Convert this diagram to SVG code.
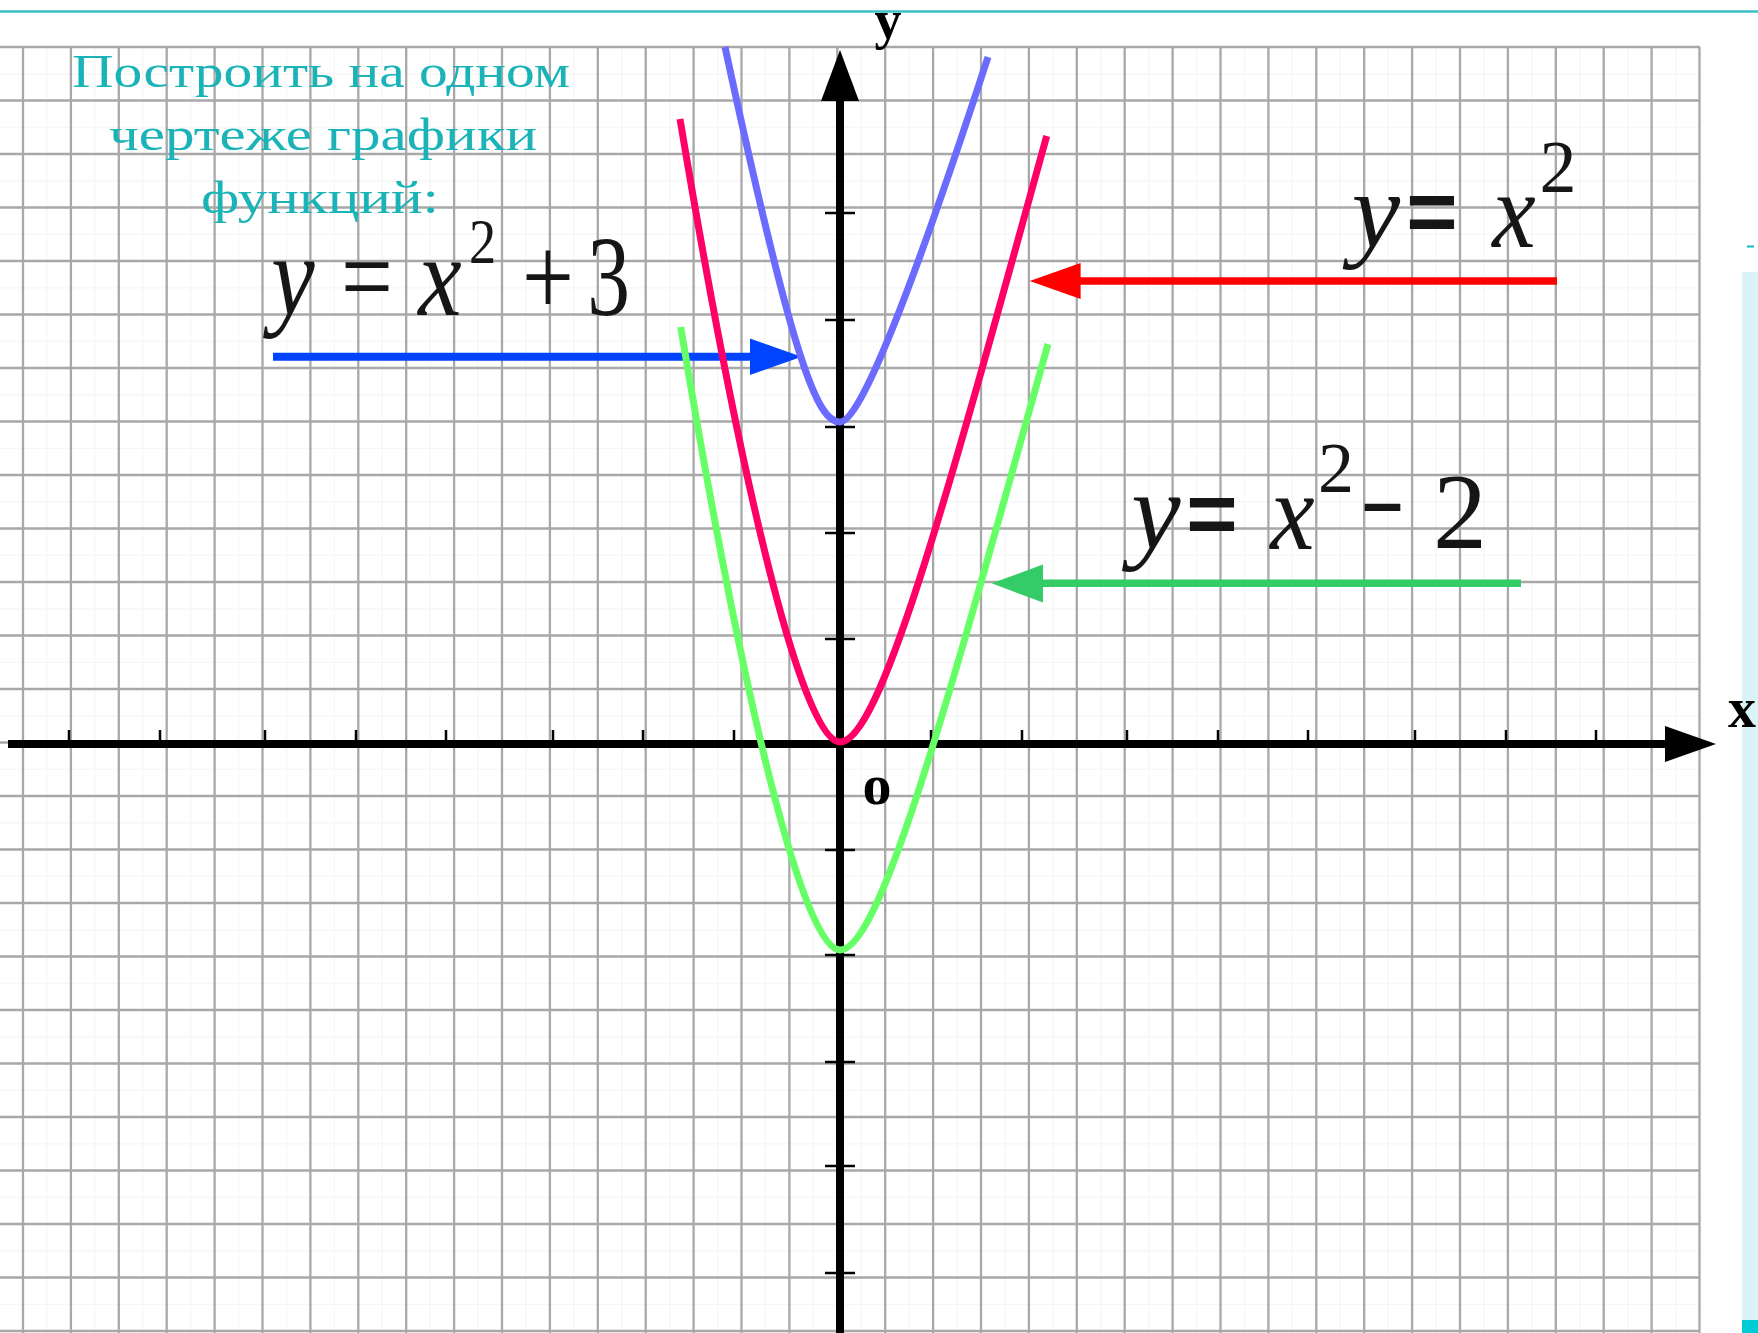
<svg xmlns="http://www.w3.org/2000/svg" width="1758" height="1333" viewBox="0 0 1758 1333">
<defs>
<style>
.grid{fill:none;stroke:#a8a8a8;stroke-width:2.3}
.minor{fill:none;stroke:#f6f6f6;stroke-width:1.2}
.axis{fill:none;stroke:#000;stroke-width:8}
.tick{fill:none;stroke:#000;stroke-width:2.5}
.curve{fill:none;stroke-width:7;stroke-linecap:butt}
.title{font-family:"Liberation Serif","Times New Roman",serif;font-size:46px;fill:#1ab3b8;text-anchor:middle}
.m{font-family:"Liberation Serif","Times New Roman",serif;fill:#161616;text-anchor:middle}
.mi{font-style:italic}
.sb{font-family:"Liberation Sans",Arial,sans-serif;font-weight:bold}
.lbl{font-family:"Liberation Serif","Times New Roman",serif;font-weight:bold;fill:#000;text-anchor:middle}
</style>
</defs>
<rect x="0" y="0" width="1758" height="1333" fill="#ffffff"/>
<g id="grid">
<path class="minor" d="M47,47V1333M94.9,47V1333M142.8,47V1333M190.7,47V1333M238.6,47V1333M286.5,47V1333M334.4,47V1333M382.3,47V1333M430.2,47V1333M478.1,47V1333M526,47V1333M573.9,47V1333M621.8,47V1333M669.7,47V1333M717.6,47V1333M765.5,47V1333M813.4,47V1333M861.3,47V1333M909.2,47V1333M957.1,47V1333M1005,47V1333M1052.9,47V1333M1100.8,47V1333M1148.7,47V1333M1196.6,47V1333M1244.5,47V1333M1292.4,47V1333M1340.3,47V1333M1388.2,47V1333M1436.1,47V1333M1484,47V1333M1531.9,47V1333M1579.8,47V1333M1627.7,47V1333M1675.6,47V1333M0,73.8H1700M0,127.3H1700M0,180.8H1700M0,234.3H1700M0,287.8H1700M0,341.3H1700M0,394.8H1700M0,448.3H1700M0,501.8H1700M0,555.3H1700M0,608.8H1700M0,662.3H1700M0,715.8H1700M0,769.3H1700M0,822.8H1700M0,876.3H1700M0,929.8H1700M0,983.3H1700M0,1036.8H1700M0,1090.3H1700M0,1143.8H1700M0,1197.3H1700M0,1250.8H1700M0,1304.3H1700"/>
<path class="grid" d="M23,47V1333M70.9,47V1333M118.8,47V1333M166.7,47V1333M214.6,47V1333M262.5,47V1333M310.4,47V1333M358.3,47V1333M406.2,47V1333M454.1,47V1333M502,47V1333M549.9,47V1333M597.8,47V1333M645.7,47V1333M693.6,47V1333M741.5,47V1333M789.4,47V1333M837.3,47V1333M885.2,47V1333M933.1,47V1333M981,47V1333M1028.9,47V1333M1076.8,47V1333M1124.7,47V1333M1172.6,47V1333M1220.5,47V1333M1268.4,47V1333M1316.3,47V1333M1364.2,47V1333M1412.1,47V1333M1460,47V1333M1507.9,47V1333M1555.8,47V1333M1603.7,47V1333M1651.6,47V1333M1699.5,47V1333M0,47H1700M0,100.5H1700M0,154H1700M0,207.5H1700M0,261H1700M0,314.5H1700M0,368H1700M0,421.5H1700M0,475H1700M0,528.5H1700M0,582H1700M0,635.5H1700M0,689H1700M0,742.5H1700M0,796H1700M0,849.5H1700M0,903H1700M0,956.5H1700M0,1010H1700M0,1063.5H1700M0,1117H1700M0,1170.5H1700M0,1224H1700M0,1277.5H1700M0,1331H1700"/>
</g>
<g id="side-panel">
<rect x="1742" y="272" width="16" height="1048" fill="#daf3f8"/>
<rect x="1742" y="1320" width="16" height="13" fill="#00ccd6"/>
<line x1="1747" y1="246.5" x2="1754" y2="246.5" stroke="#12b7c6" stroke-width="2"/>
</g>
<line id="top-rule" x1="0" y1="11.5" x2="1758" y2="11.5" stroke="#3cbfc6" stroke-width="2.5"/>
<g id="axes">
<line class="axis" x1="8" y1="744" x2="1668" y2="744"/>
<polygon points="1665,726 1716,744 1665,762" fill="#000"/>
<line class="axis" x1="840" y1="98" x2="840" y2="1333"/>
<polygon points="821,101 840,50 859,101" fill="#000"/>
<path class="tick" d="M69,730V744M160,730V744M265,730V744M356,730V744M446,730V744M553,730V744M643,730V744M734,730V744M931,730V744M1022,730V744M1127,730V744M1218,730V744M1308,730V744M1415,730V744M1506,730V744M1596,730V744"/>
<path class="tick" d="M825,213H855M825,320H855M825,427H855M825,533H855M825,639H855M825,850H855M825,955H855M825,1062H855M825,1166H855M825,1273H855"/>
</g>
<g id="connectors">
<line x1="273" y1="356.7" x2="752" y2="356.7" stroke="#0044ff" stroke-width="8"/>
<polygon points="750,338.5 801.7,356.7 750,375" fill="#0044ff"/>
<line x1="1078" y1="281" x2="1557" y2="281" stroke="#ff0000" stroke-width="7.5"/>
<polygon points="1080.6,263 1029.7,281 1080.6,299" fill="#ff0000"/>
<line x1="1041" y1="583.3" x2="1521" y2="583.3" stroke="#33cc66" stroke-width="7.5"/>
<polygon points="1043,564.5 991.7,583.3 1043,602.5" fill="#33cc66"/>
</g>
<g id="curve-blue">
<path class="curve" stroke="#6b6bff" d="M725,47 C794.6,369.4 818,422 840,422 C860,422 910.5,294.5 988,57"/>
</g>
<g id="curve-red">
<path class="curve" stroke="#ff0066" d="M680,119 C745.6,513.4 805,742 840,742 C880,742 945.6,502.3 1046.7,136"/>
</g>
<g id="curve-green">
<path class="curve" stroke="#66ff66" d="M680.7,327 C746.3,721.4 805,950 840,950 C880,950 945.6,710.3 1048,344"/>
</g>
<g id="title">
<text class="title" x="321" y="87" textLength="498" lengthAdjust="spacingAndGlyphs">Построить на одном</text>
<text class="title" x="323" y="150" textLength="428" lengthAdjust="spacingAndGlyphs">чертеже графики</text>
<text class="title" x="320" y="213" textLength="238" lengthAdjust="spacingAndGlyphs">функций:</text>
</g>
<g id="label-x2-plus-3">
<text class="m mi" font-size="115" transform="translate(293,315) scale(0.85,1)">y</text>
<text class="m" font-size="115" transform="translate(367,315) scale(0.8,1)">=</text>
<text class="m mi" font-size="115" transform="translate(440,315) scale(0.85,1)">x</text>
<text class="m" font-size="64" transform="translate(482.5,263) scale(0.85,1)">2</text>
<text class="m" font-size="115" transform="translate(548,315) scale(0.8,1)">+</text>
<text class="m" font-size="114" transform="translate(608.5,315) scale(0.75,1)">3</text>
</g>
<g id="label-x2">
<text class="m mi" font-size="109" x="1376" y="247">y</text>
<text class="m sb" font-size="88" x="1432" y="241">=</text>
<text class="m mi" font-size="109" transform="translate(1514,247) scale(0.9,1)">x</text>
<text class="m" font-size="74" x="1558" y="192">2</text>
</g>
<g id="label-x2-minus-2">
<text class="m mi" font-size="111" x="1156" y="549">y</text>
<text class="m sb" font-size="88" x="1212" y="543">=</text>
<text class="m mi" font-size="111" transform="translate(1292.5,549) scale(0.9,1)">x</text>
<text class="m" font-size="72" x="1336" y="492">2</text>
<text class="m sb" font-size="72" x="1382.5" y="527">–</text>
<text class="m" font-size="108" x="1460" y="548">2</text>
</g>
<g id="axis-labels">
<text class="lbl" font-size="54" x="888" y="38">y</text>
<text class="lbl" font-size="56" x="1742" y="727">x</text>
<text class="lbl" font-size="58" x="877" y="804">o</text>
</g>
</svg>
